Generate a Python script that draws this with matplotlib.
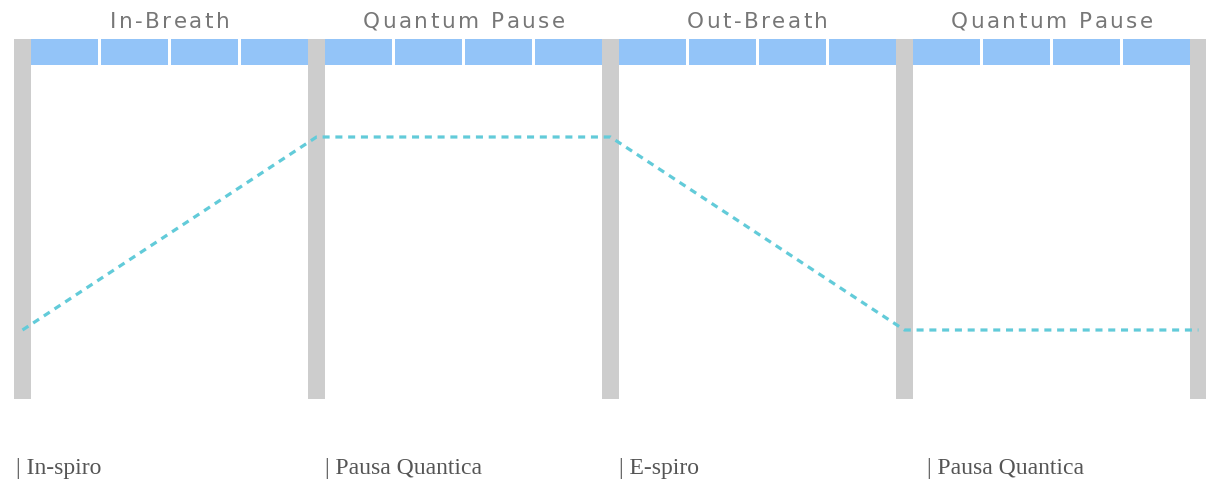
import numpy as np
import matplotlib.pyplot as plt
from matplotlib.patches import Rectangle
from matplotlib.font_manager import FontProperties

# phases of the breath cycle
phases_top = ['In-Breath', 'Quantum Pause', 'Out-Breath', 'Quantum Pause']
phases_bottom = ['| In-spiro', '| Pausa Quantica', '| E-spiro', '| Pausa Quantica']

# lung volume at each phase boundary (0 = empty, 1 = full)
boundaries = [0, 1, 2, 3, 4]
volume = [0.0, 1.0, 1.0, 0.0, 0.0]

# segments per phase
n_seg = 4

GRAY = '#cdcdcd'
BLUE = '#93c4f8'
LINE = '#62cbd9'

W, H = 1206, 481
px_x = 294.0          # pixels per phase
x0_px = 22.5          # pixel of first boundary
y0_px, y1_px = 331.0, 138.0   # pixels of volume 0 and 1
py = y0_px - y1_px


def vy(p):
    # pixel row -> volume units
    return (y0_px - p) / py


def vx(p):
    # pixel column -> phase units
    return (p - x0_px) / px_x


fig = plt.figure(figsize=(W / 100, H / 100), dpi=100)
ax = fig.add_axes([0, 0, 1, 1])
ax.set_xlim(vx(0), vx(W))
ax.set_ylim(vy(H), vy(0))
ax.axis('off')
renderer = fig.canvas.get_renderer()

bar_w = 17 / px_x
bar_top, bar_bot = vy(40), vy(400)
blue_top, blue_bot = vy(40), vy(66)
gap = 3.5 / px_x

top_prop = FontProperties(family='DejaVu Sans', size=15.5)
spacing_px = 2.6


def spaced_text(xc, y, s):
    # centred text with extra letter spacing
    widths = [renderer.get_text_width_height_descent(s[:i], top_prop, ismath=False)[0]
              if i else 0 for i in range(len(s) + 1)]
    total = widths[-1] + spacing_px * (len(s) - 1)
    left = xc - total / 2 / px_x
    for i, ch in enumerate(s):
        ax.text(left + (widths[i] + i * spacing_px) / px_x, y, ch,
                ha='left', va='baseline', fontproperties=top_prop, color='#777777')


for b in boundaries:
    ax.add_patch(Rectangle((b - bar_w / 2, bar_bot), bar_w, bar_top - bar_bot,
                           color=GRAY, lw=0, zorder=1))

label_px = [16, 325, 619, 927]

for i in range(len(phases_top)):
    left = boundaries[i] + bar_w / 2
    right = boundaries[i + 1] - bar_w / 2
    seg = (right - left - gap * (n_seg - 1)) / n_seg
    for k in range(n_seg):
        ax.add_patch(Rectangle((left + k * (seg + gap), blue_bot), seg, blue_top - blue_bot,
                               color=BLUE, lw=0, zorder=2))
    spaced_text((boundaries[i] + boundaries[i + 1]) / 2, vy(28), phases_top[i])
    ax.text(vx(label_px[i]), vy(474), phases_bottom[i],
            ha='left', va='baseline', fontsize=17, color='#555555',
            family='Liberation Serif')

ax.plot(boundaries, volume, color=LINE, lw=2.3, ls=(0, (2.2, 1.8)), zorder=3,
        solid_capstyle='butt')

fig.savefig('out.png', dpi=100)
